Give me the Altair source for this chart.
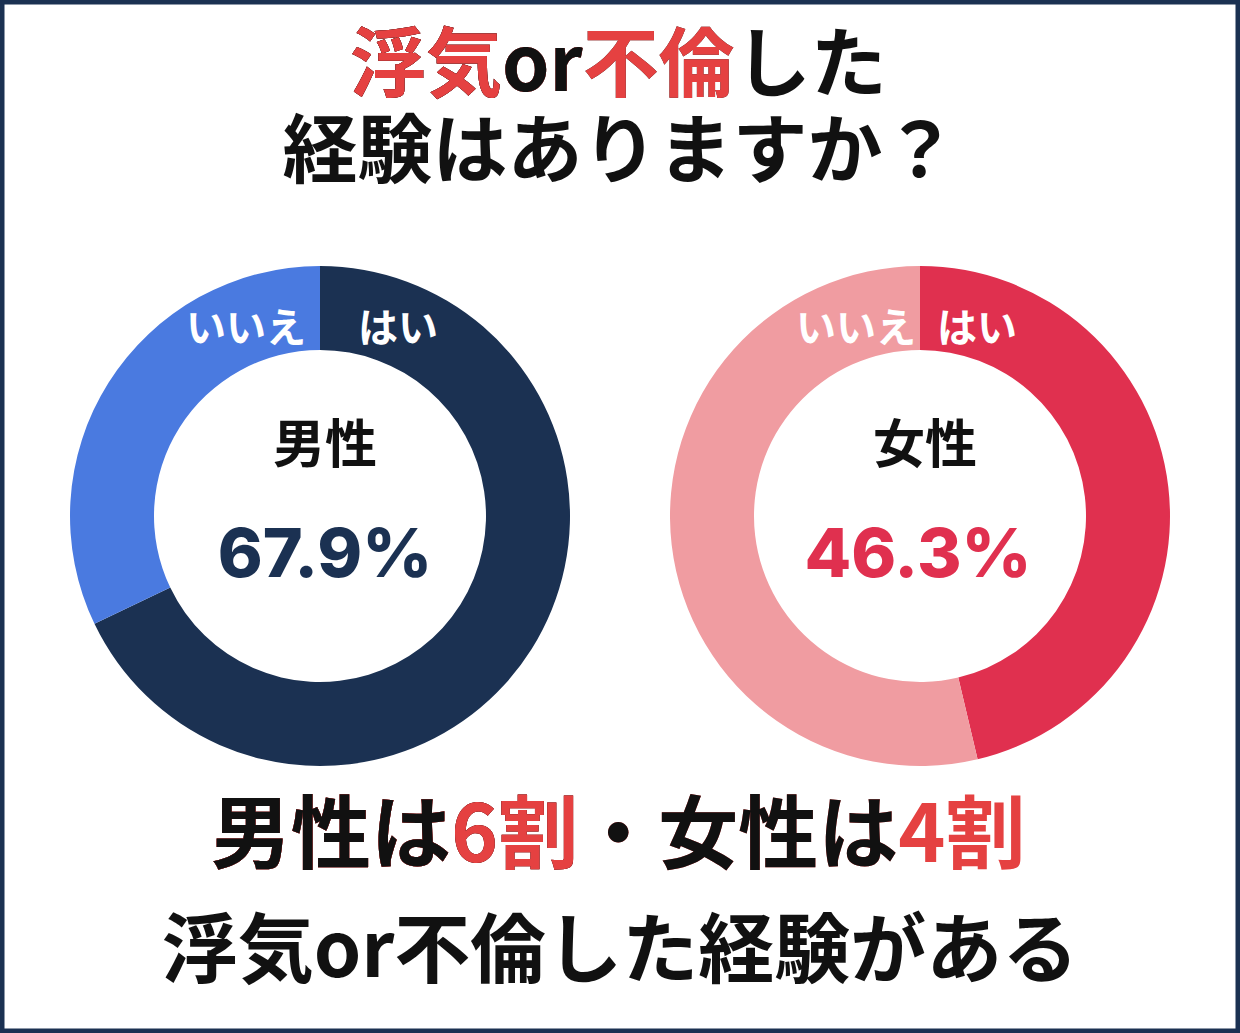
import altair as alt
import pandas as pd

W, H = 1240, 1033
JP = "Noto Sans CJK JP"
RED = "#e54141"
BLACK = "#111111"
NAVY = "#1b3152"

# ---- data ----
genders = ["男性", "女性"]
yes_pct = [67.9, 46.3]
no_pct = [32.1, 53.7]
answers = ["はい", "いいえ"]
yes_colors = ["#1b3152", "#e0304f"]
no_colors = ["#4a7ae0", "#f09ca1"]

# title / caption segments (text, colour)
title1 = [("浮気", RED), ("or", BLACK), ("不倫", RED), ("した", BLACK)]
title2 = "経験はありますか？"
caption1 = [("男性は", BLACK), ("6割", RED), ("・女性は", BLACK), ("4割", RED)]
caption2 = "浮気or不倫した経験がある"

# ---- layout ----
cx = [320, 920]
cy = 516
R_OUT, R_IN = 250, 166
# label offsets from the 12 o'clock boundary: (いいえ right edge, はい left edge)
label_off = [(-14, 38), (-4, 17)]
pct_off = [5, -2]

rows = []
for i, g in enumerate(genders):
    rows.append(dict(gender=g, answer="はい", key=g + "はい", value=yes_pct[i], ord=0))
    rows.append(dict(gender=g, answer="いいえ", key=g + "いいえ", value=no_pct[i], ord=1))
df = pd.DataFrame(rows)
keys = [g + a for g in genders for a in answers]
cols = []
for i in range(len(genders)):
    cols += [yes_colors[i], no_colors[i]]

layers = []
for i, g in enumerate(genders):
    arc = alt.Chart(df[df["gender"] == g]).mark_arc(
        innerRadius=R_IN, outerRadius=R_OUT, strokeWidth=0
    ).encode(
        x=alt.value(cx[i]), y=alt.value(cy),
        theta=alt.Theta("value:Q", stack=True),
        color=alt.Color("key:N", scale=alt.Scale(domain=keys, range=cols), legend=None),
        order=alt.Order("ord:Q"),
    )
    layers.append(arc)

# rich (multi-colour) lines drawn as longest-prefix first, left aligned
def rich(segs, left, y, size):
    out = []
    n = len(segs)
    for k in range(n, 0, -1):
        txt = "".join(s for s, _ in segs[:k])
        out.append(dict(text=txt, color=segs[k - 1][1], x=left, y=y, size=size))
    return out

rich_rows = rich(title1, 350, 68, 76) + rich(caption1, 211, 838, 80)
rich_df = pd.DataFrame(rich_rows)
rich_df["o"] = range(len(rich_df))
layers.append(
    alt.Chart(rich_df).mark_text(font=JP, fontWeight="bold", align="left", baseline="middle").encode(
        x=alt.X("x:Q", scale=None, axis=None), y=alt.Y("y:Q", scale=None, axis=None),
        text="text:N", color=alt.Color("color:N", scale=None),
        size=alt.Size("size:Q", scale=None), order=alt.Order("o:Q"),
    )
)

center_rows = [
    dict(text=title2, x=W / 2, y=154, size=75, color=BLACK),
    dict(text=caption2, x=W / 2, y=954, size=76, color=BLACK),
]
for i, g in enumerate(genders):
    center_rows.append(dict(text=g, x=cx[i] + 5, y=447, size=52, color=BLACK))
cdf = pd.DataFrame(center_rows)
layers.append(
    alt.Chart(cdf).mark_text(font=JP, fontWeight="bold", align="center", baseline="middle").encode(
        x=alt.X("x:Q", scale=None, axis=None), y=alt.Y("y:Q", scale=None, axis=None),
        text="text:N", color=alt.Color("color:N", scale=None),
        size=alt.Size("size:Q", scale=None),
    )
)

pct_rows = [
    dict(text=f"{yes_pct[i]:.1f}%", x=cx[i] + pct_off[i], y=557, color=yes_colors[i])
    for i in range(len(genders))
]
layers.append(
    alt.Chart(pd.DataFrame(pct_rows)).mark_text(font="Inter", fontWeight=800, fontSize=68,
                                                align="center", baseline="middle").encode(
        x=alt.X("x:Q", scale=None, axis=None), y=alt.Y("y:Q", scale=None, axis=None),
        text="text:N", color=alt.Color("color:N", scale=None),
    )
)

# answer labels inside the rings, either side of the 12 o'clock boundary
ring_rows = []
for i in range(len(genders)):
    ring_rows.append(dict(text=answers[1], x=cx[i] + label_off[i][0], y=330, side="right"))
    ring_rows.append(dict(text=answers[0], x=cx[i] + label_off[i][1], y=330, side="left"))
rdf = pd.DataFrame(ring_rows)
for al in ["right", "left"]:
    layers.append(
        alt.Chart(rdf[rdf["side"] == al]).mark_text(font=JP, fontWeight="bold", fontSize=40,
                                                    color="white", align=al, baseline="middle").encode(
            x=alt.X("x:Q", scale=None, axis=None), y=alt.Y("y:Q", scale=None, axis=None),
            text="text:N",
        )
    )

chart = alt.layer(*layers).properties(
    width=W, height=H, autosize="none", padding=0, background="white"
).configure_view(stroke=NAVY, strokeWidth=9)

chart.save("out.html", embed_options={"renderer": "svg", "actions": False})
